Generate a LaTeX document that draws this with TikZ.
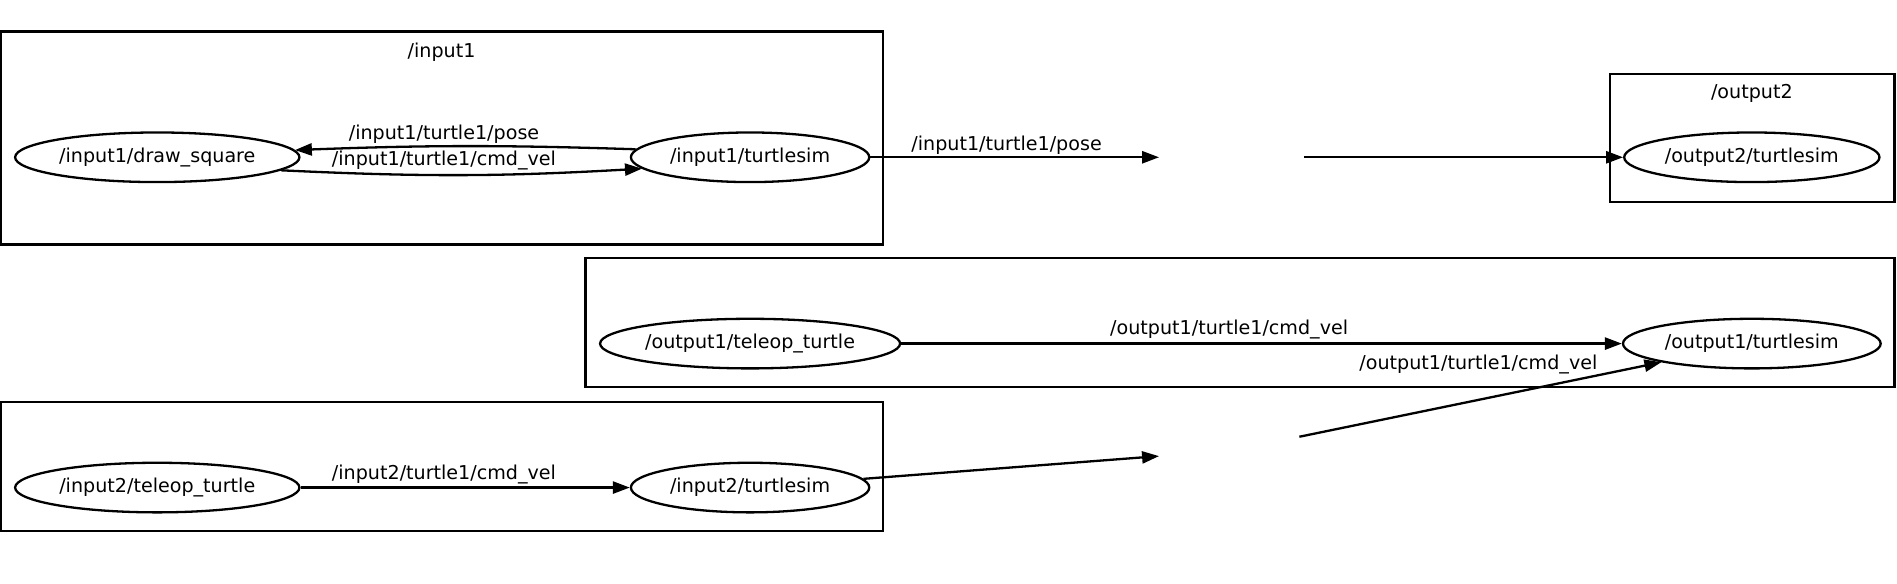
\documentclass[tikz,border=0pt]{standalone}
\usepackage{fontspec}
\setmainfont{DejaVu Sans}
\usetikzlibrary{arrows.meta,shapes.geometric}
\begin{document}
\begin{tikzpicture}[
            x=0.5pt, y=-0.5pt,
            every node/.style={font=\fontsize{7.9}{9.5}\selectfont, inner sep=0pt},
            rosnode/.style={ellipse, draw, line width=0.95pt, minimum height=20.5pt},
            cluster/.style={draw, line width=0.95pt},
            topic/.style={draw, line width=0.95pt, -{Triangle[length=7pt,width=5pt]}}
            ]
            \useasboundingbox (0,0) rectangle (1568,482);
            % clusters
            \draw[cluster] (1,26) rectangle (730,202);
            \node (input1) at (365,43) {/input1};
            \draw[cluster] (1331,61) rectangle (1566,167);
            \node (output2) at (1448,77) {/output2};
            \draw[cluster] (484,213) rectangle (1566,320);
            \draw[cluster] (1,332) rectangle (730,439);
            % ros nodes
            \node[rosnode, minimum width=117.5pt] (in1draw) at (130,130) {/input1/draw\_square};
            \node[rosnode, minimum width=98.5pt] (in1sim) at (620,130) {/input1/turtlesim};
            \node[rosnode, minimum width=105.5pt] (out2sim) at (1448,130) {/output2/turtlesim};
            \node[rosnode, minimum width=124pt] (out1teleop) at (620,284) {/output1/teleop\_turtle};
            \node[rosnode, minimum width=106.5pt] (out1sim) at (1448,284) {/output1/turtlesim};
            \node[rosnode, minimum width=117.5pt] (in2teleop) at (130,403) {/input2/teleop\_turtle};
            \node[rosnode, minimum width=98.5pt] (in2sim) at (620,403) {/input2/turtlesim};
            % hidden topics
            \coordinate (poseIn) at (958,130);
            \coordinate (poseOut) at (1078,130);
            \coordinate (velIn) at (958,377);
            \coordinate (velOut) at (1074,361);
            % topics
            \draw[topic] (in1sim.176) to[bend right=2] (in1draw.3);
            \node (pose1) at (367,111) {/input1/turtle1/pose};
            \draw[topic] (in1draw.-6) to[bend right=3] (in1sim.186);
            \node (vel1) at (367,133) {/input1/turtle1/cmd\_vel};
            \draw[topic] (in1sim) -- (poseIn);
            \node (pose2) at (832,120) {/input1/turtle1/pose};
            \draw[topic] (poseOut) -- (out2sim);
            \draw[topic] (out1teleop) -- (out1sim);
            \node (vel2) at (1016,272) {/output1/turtle1/cmd\_vel};
            \draw[topic] (velOut) -- (out1sim);
            \node (vel3) at (1222,301) {/output1/turtle1/cmd\_vel};
            \draw[topic] (in2teleop) -- (in2sim);
            \node (vel4) at (367,392) {/input2/turtle1/cmd\_vel};
            \draw[topic] (in2sim) -- (velIn);
\end{tikzpicture}
\end{document}
